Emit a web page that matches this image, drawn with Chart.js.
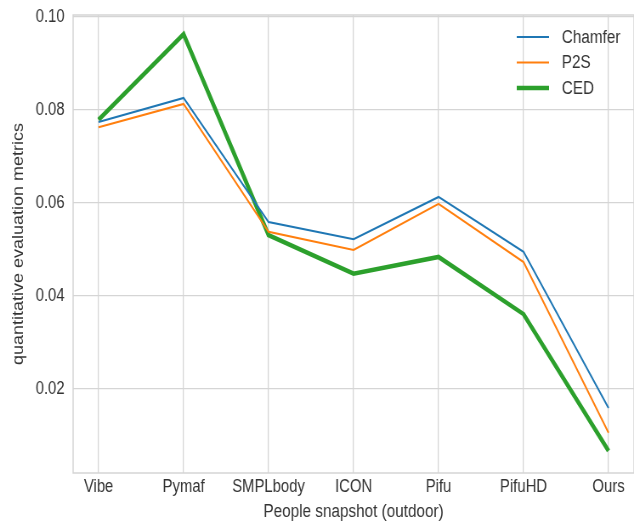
<!DOCTYPE html>
<html>
<head>
<meta charset="utf-8">
<script src="https://cdn.jsdelivr.net/npm/chart.js@4"></script>
<style>
  html, body { margin: 0; padding: 0; background: #fff; overflow: hidden; }
  canvas { display: block; }
</style>
</head>
<body>
<!-- drawn wider and squeezed to 634px, like the source picture -->
<canvas id="metricChart" width="746" height="523" style="width:634px;height:523px"></canvas>
<script>
const methods = ['Vibe', 'Pymaf', 'SMPLbody', 'ICON', 'Pifu', 'PifuHD', 'Ours'];
const chamfer = [0.0774, 0.0826, 0.0559, 0.0522, 0.0613, 0.0495, 0.0159];
const p2s     = [0.0763, 0.0813, 0.0538, 0.0499, 0.0598, 0.0473, 0.0106];
const ced     = [0.0779, 0.0963, 0.0531, 0.0448, 0.0484, 0.0361, 0.0067];
const yTicks  = [0.02, 0.04, 0.06, 0.08, 0.10];

const gridColor = '#d5d5d5';
const textColor = '#333333';
const family = '"Liberation Sans", Arial, sans-serif';
const labelFont = { family: family, size: 18 };
const tickFont = { family: family, size: 17.5 };

function toPoints(values) {
    return values.map((v, i) => ({ x: i, y: v }));
}

// matplotlib style frame + legend in the upper right corner
const framePlugin = {
    id: 'frame',
    beforeDatasetsDraw(chart) {
        const { ctx, chartArea: a } = chart;
        ctx.save();
        ctx.strokeStyle = gridColor;
        ctx.lineWidth = 1.5;
        ctx.strokeRect(a.left, a.top, a.right - a.left, a.bottom - a.top);
        ctx.restore();
    },
    afterDraw(chart) {
        const { ctx, chartArea: a } = chart;
        ctx.save();
        ctx.font = labelFont.size + 'px ' + family;
        ctx.textBaseline = 'middle';
        ctx.fillStyle = textColor;
        chart.data.datasets.forEach((ds, i) => {
            const y = a.top + 22 + i * 25.5;
            ctx.strokeStyle = ds.borderColor;
            ctx.lineWidth = ds.borderWidth;
            ctx.beginPath();
            ctx.moveTo(a.right - 138, y);
            ctx.lineTo(a.right - 100, y);
            ctx.stroke();
            ctx.fillText(ds.label, a.right - 85, y + 1);
        });
        ctx.restore();
    }
};

new Chart(document.getElementById('metricChart').getContext('2d'), {
    type: 'line',
    data: {
        datasets: [{
            label: 'Chamfer',
            data: toPoints(chamfer),
            borderColor: '#1f77b4',
            borderWidth: 2,
        }, {
            label: 'P2S',
            data: toPoints(p2s),
            borderColor: '#ff7f0e',
            borderWidth: 2,
        }, {
            label: 'CED',
            data: toPoints(ced),
            borderColor: '#2ca02c',
            borderWidth: 4.5,
        }]
    },
    options: {
        responsive: false,
        animation: false,
        devicePixelRatio: 1,
        layout: { padding: { top: 15, right: 0, left: 0, bottom: 0 } },
        elements: {
            point: { radius: 0 },
            line: { tension: 0, borderCapStyle: 'butt', borderJoinStyle: 'miter' }
        },
        plugins: {
            legend: { display: false },
            tooltip: { enabled: false }
        },
        scales: {
            x: {
                type: 'linear',
                min: -0.3,
                max: 6.3,
                afterBuildTicks: s => { s.ticks = methods.map((_, i) => ({ value: i })); },
                afterFit: s => { s.height = 50; s.paddingLeft = 0; s.paddingRight = 0; },
                ticks: {
                    callback: v => methods[v],
                    color: textColor,
                    font: tickFont,
                    padding: 4,
                    maxRotation: 0,
                    autoSkip: false
                },
                grid: { color: gridColor, lineWidth: 1.3, drawTicks: false },
                border: { display: false },
                title: {
                    display: true,
                    text: 'People snapshot (outdoor)',
                    color: textColor,
                    font: labelFont,
                    padding: { top: 0, bottom: 0 }
                }
            },
            y: {
                min: 0.00194,
                max: 0.10043,
                afterBuildTicks: s => { s.ticks = yTicks.map(v => ({ value: v })); },
                afterFit: s => { s.width = 86; s.paddingTop = 0; s.paddingBottom = 0; },
                ticks: {
                    callback: v => v.toFixed(2),
                    color: textColor,
                    font: tickFont,
                    padding: 10
                },
                grid: { color: gridColor, lineWidth: 1.2, drawTicks: false },
                border: { display: false },
                title: {
                    display: true,
                    text: 'quantitative evaluation metrics',
                    color: textColor,
                    font: labelFont,
                    padding: { top: 11, bottom: 0 }
                }
            }
        }
    },
    plugins: [framePlugin]
});
</script>
</body>
</html>
